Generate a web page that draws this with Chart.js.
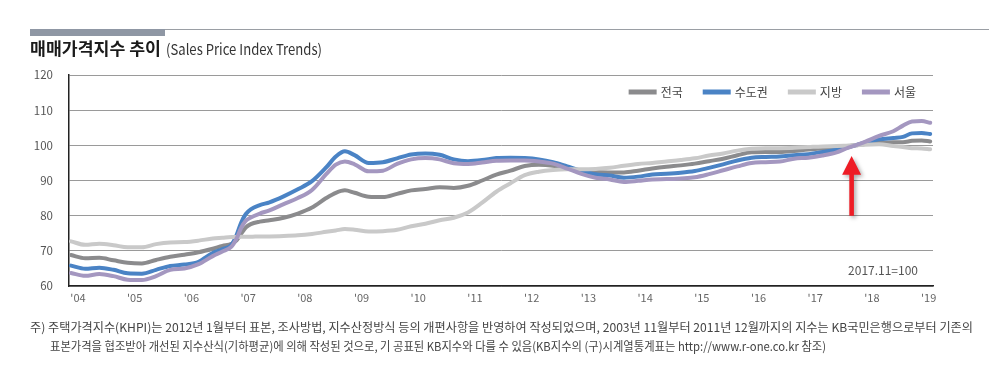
<!DOCTYPE html>
<html><head><meta charset="utf-8">
<script src="https://cdn.jsdelivr.net/npm/chart.js@4.4.1/dist/chart.umd.min.js"></script>
<style>
html,body{margin:0;padding:0;background:#fff;}
#wrap{position:relative;width:989px;height:388px;overflow:hidden;font-family:"Noto Sans CJK KR","Noto Sans",sans-serif;}
#c{position:absolute;left:0;top:0;}
.bar{position:absolute;left:30px;top:29px;width:135px;height:7px;background:#8f97a4;}
.rule{position:absolute;left:165px;top:29px;width:824px;height:1px;background:#9a9ea4;}
.t{position:absolute;white-space:nowrap;transform-origin:0 50%;}
</style></head><body>
<div id="wrap">
<canvas id="c" width="989" height="388"></canvas>
<div class="bar"></div><div class="rule"></div>
<div class="t" data-w="131" style="left:30px;top:38px;font-size:17px;line-height:20px;font-weight:700;color:#1a1a1a;">매매가격지수 추이</div>
<div class="t" data-w="156" style="left:166px;top:39px;font-size:15px;line-height:20px;color:#333;">(Sales Price Index Trends)</div>
<div class="t" data-w="943" style="left:30px;top:319px;font-size:12px;line-height:16px;color:#444;">주) 주택가격지수(KHPI)는 2012년 1월부터 표본, 조사방법, 지수산정방식 등의 개편사항을 반영하여 작성되었으며, 2003년 11월부터 2011년 12월까지의 지수는 KB국민은행으로부터 기존의</div>
<div class="t" data-w="776" style="left:50px;top:338px;font-size:12px;line-height:16px;color:#444;">표본가격을 협조받아 개선된 지수산식(기하평균)에 의해 작성된 것으로, 기 공표된 KB지수와 다를 수 있음(KB지수의 (구)시계열통계표는 http://www.r-one.co.kr 참조)</div>
</div>
<script>
// ---- data (decimal years) ----
const dates = [2004.00,2004.25,2004.50,2004.75,2005.00,2005.25,2005.50,2005.75,2006.00,2006.25,
 2006.50,2006.67,2006.83,2006.92,2007.00,2007.08,2007.17,2007.33,2007.50,2007.75,
 2008.00,2008.25,2008.50,2008.67,2008.83,2009.00,2009.25,2009.50,2009.75,2010.00,
 2010.25,2010.50,2010.75,2011.00,2011.25,2011.50,2011.75,2012.00,2012.25,2012.50,
 2012.75,2013.00,2013.25,2013.50,2013.75,2014.00,2014.25,2014.50,2014.75,2015.00,
 2015.25,2015.50,2015.75,2016.00,2016.25,2016.50,2016.75,2017.00,2017.25,2017.50,
 2017.67,2017.83,2018.00,2018.25,2018.50,2018.67,2018.83,2019.00,2019.15];
const nationwide = [68.8,67.9,68.0,67.3,66.6,66.4,67.4,68.3,68.9,69.6,
 70.6,71.4,72.0,73.0,74.8,76.6,77.6,78.3,78.7,79.4,
 80.6,82.3,85.0,86.5,87.2,86.5,85.4,85.3,86.2,87.2,
 87.6,88.1,87.9,88.5,90.0,91.7,92.8,94.1,94.5,94.2,
 93.4,92.8,92.5,92.3,92.3,92.8,93.4,93.9,94.3,94.8,
 95.5,96.2,97.2,98.0,98.1,98.1,98.4,98.8,99.1,99.4,
 99.7,100.0,100.4,100.7,100.9,100.9,101.3,101.4,101.1];
const capital = [65.8,64.9,65.2,64.6,63.6,63.5,64.6,65.7,66.1,66.9,
 69.4,70.5,71.7,74.5,78.0,80.4,81.8,83.0,83.8,85.5,
 87.5,89.8,93.7,96.8,98.3,97.2,95.0,95.2,96.3,97.4,
 97.7,97.3,96.0,95.5,95.8,96.4,96.5,96.4,96.0,95.2,
 94.0,92.8,91.8,91.4,90.8,91.1,91.7,91.9,92.2,92.7,
 93.6,94.6,95.7,96.5,96.7,96.8,97.2,97.5,98.1,98.8,
 99.3,100.0,100.8,101.7,102.1,102.4,103.4,103.5,103.2];
const regional = [72.7,71.7,72.0,71.6,71.0,71.0,71.9,72.4,72.5,72.9,
 73.5,73.7,73.9,73.9,74.0,74.0,74.0,74.1,74.1,74.2,
 74.4,74.8,75.4,75.8,76.2,76.0,75.5,75.6,76.0,77.0,
 77.7,78.7,79.4,80.9,83.7,86.8,89.2,91.5,92.5,93.0,
 93.2,93.2,93.3,93.6,94.2,94.7,95.0,95.4,95.8,96.3,
 97.1,97.7,98.5,99.0,99.2,99.2,99.3,99.5,99.7,99.8,
 99.9,100.0,100.2,100.3,99.8,99.5,99.2,99.1,98.9];
const seoul = [63.7,62.9,63.4,62.8,61.8,61.7,62.8,64.6,65.0,66.2,
 68.5,69.8,71.2,73.5,76.5,78.5,79.5,80.6,81.5,83.3,
 85.0,87.3,91.8,94.5,95.4,94.6,92.6,92.8,94.7,96.0,
 96.4,96.0,94.9,94.7,95.1,95.6,95.7,95.7,95.4,94.8,
 93.4,91.9,90.8,90.3,89.6,89.9,90.3,90.4,90.6,90.9,
 91.8,92.9,94.0,95.0,95.2,95.4,96.2,96.5,97.1,98.0,
 99.1,100.0,101.0,102.7,104.0,105.6,106.8,106.9,106.4];
const seriesNames = ['전국','수도권','지방','서울'];
const seriesColors = ['#8b8b8d','#4a83c5','#c9c9c9','#a497c0'];
const yearTicks = [2004,2005,2006,2007,2008,2009,2010,2011,2012,2013,2014,2015,2016,2017,2018,2019];
const tickLabels = ["'04","'05","'06","'07","'08","'09","'10","'11","'12","'13","'14","'15","'16","'17","'18","'19"];
const baseNote = '2017.11=100';
const arrowAt = {x: 2017.765, tip: 97.0, headBase: 91.6, tail: 80.0};

const FONT = '"Noto Sans CJK KR","Noto Sans",sans-serif';
const seriesValues = [nationwide, capital, regional, seoul];
const drawOrder = [3, 2, 1, 0];

const overlay = {
  id: 'overlay',
  afterDatasetsDraw(chart) {
    const {ctx, chartArea: a, scales: {x, y}} = chart;
    // arrow
    const ax = x.getPixelForValue(arrowAt.x);
    const tip = y.getPixelForValue(arrowAt.tip);
    const base = y.getPixelForValue(arrowAt.headBase);
    const tail = y.getPixelForValue(arrowAt.tail);
    ctx.save();
    ctx.shadowColor = 'rgba(0,0,0,0.35)';
    ctx.shadowBlur = 4; ctx.shadowOffsetX = 2; ctx.shadowOffsetY = 2;
    ctx.fillStyle = '#ee1c25';
    ctx.beginPath();
    ctx.moveTo(ax, tip);
    ctx.lineTo(ax + 9.5, base); ctx.lineTo(ax + 2.3, base); ctx.lineTo(ax + 2.3, tail);
    ctx.lineTo(ax - 2.3, tail); ctx.lineTo(ax - 2.3, base); ctx.lineTo(ax - 9.5, base);
    ctx.closePath(); ctx.fill();
    ctx.restore();
    // legend
    ctx.save();
    ctx.font = '12px ' + FONT;
    ctx.textBaseline = 'middle';
    const lineLen = 28, gapT = 4, gapItem = 20;
    const widths = seriesNames.map(n => ctx.measureText(n).width);
    let total = widths.reduce((s, w) => s + lineLen + gapT + w, 0) + gapItem * (seriesNames.length - 1);
    let lx = a.right - 17 - total;
    const ly = a.top + 17;
    seriesNames.forEach((n, i) => {
      ctx.fillStyle = seriesColors[i];
      ctx.fillRect(lx, ly - 2.5, lineLen, 5);
      ctx.fillStyle = '#444';
      ctx.fillText(n, lx + lineLen + gapT, ly + 0.5);
      lx += lineLen + gapT + widths[i] + gapItem;
    });
    // base note
    ctx.fillStyle = '#555';
    ctx.textAlign = 'right';
    ctx.fillText(baseNote, a.right - 15, a.bottom - 16);
    ctx.restore();
  }
};

new Chart(document.getElementById('c').getContext('2d'), {
  type: 'line',
  data: {
    datasets: seriesNames.map((n, i) => ({
      label: n,
      data: dates.map((d, k) => ({x: d, y: seriesValues[i][k]})),
      borderColor: seriesColors[i],
      backgroundColor: seriesColors[i],
      order: drawOrder[i]
    }))
  },
  options: {
    responsive: false,
    animation: false,
    layout: {padding: {left: 0, top: 75, right: 56, bottom: 0}},
    plugins: {legend: {display: false}, tooltip: {enabled: false}},
    elements: {
      point: {radius: 0},
      line: {borderWidth: 4, cubicInterpolationMode: 'monotone', borderCapStyle: 'round', borderJoinStyle: 'round'}
    },
    scales: {
      x: {
        type: 'linear', min: 2003.965, max: 2019.2,
        afterFit(s) { s.height = 102; },
        afterBuildTicks(s) { s.ticks = yearTicks.map(v => ({value: v})); },
        grid: {display: false, drawTicks: false},
        border: {display: true, color: '#222', width: 1.5},
        ticks: {padding: 5, labelOffset: 7, autoSkip: false, maxRotation: 0, color: '#666',
          font: {size: 11, family: FONT},
          callback: (v) => tickLabels[yearTicks.indexOf(v)]}
      },
      y: {
        min: 60, max: 120,
        afterFit(s) { s.width = 69; },
        ticks: {stepSize: 10, padding: 16, color: '#555', font: {size: 11.5, family: FONT}},
        grid: {color: '#9a9a9a', lineWidth: 1, drawTicks: false},
        border: {display: true, color: '#222', width: 1.5}
      }
    }
  },
  plugins: [overlay]
});

document.querySelectorAll('.t').forEach(el => {
  const w = parseFloat(el.dataset.w);
  const actual = el.getBoundingClientRect().width;
  if (actual > 0) el.style.transform = 'scaleX(' + (w / actual) + ')';
});
</script>
</body></html>
